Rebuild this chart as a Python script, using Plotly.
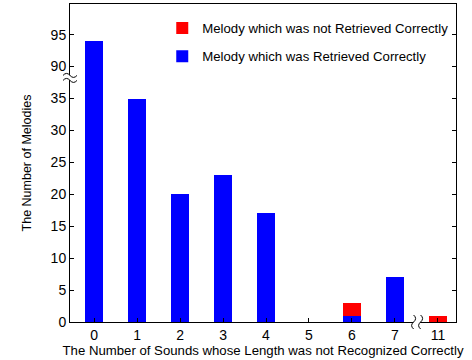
import plotly.graph_objects as go

# Data
categories = ["0", "1", "2", "3", "4", "5", "6", "7", "11"]
retrieved = [94, 35, 20, 23, 17, 0, 1, 7, 0]
not_retrieved = [0, 0, 0, 0, 0, 0, 2, 0, 1]
y_tick_labels = ["0", "5", "10", "15", "20", "25", "30", "35", "90", "95"]
y_tick_values = [0, 5, 10, 15, 20, 25, 30, 35, 90, 95]

# broken y axis: values >= 90 are shifted down by 50
BREAK_SHIFT = 50
def ty(v):
    return v - BREAK_SHIFT if v >= 90 else v

xpos = list(range(len(categories)))
blue_plot = [ty(v) for v in retrieved]
red_plot = [ty(b + r) - ty(b) for b, r in zip(retrieved, not_retrieved)]

fig = go.Figure()
fig.add_trace(go.Bar(x=xpos, y=blue_plot, name="Melody which was Retrieved Correctly",
                     legendgroup="b", legendrank=2,
                     marker=dict(color="#0000FF", line=dict(width=0)), width=0.42,
                     customdata=retrieved, hovertemplate="%{customdata}<extra></extra>"))
fig.add_trace(go.Bar(x=xpos, y=red_plot, name="Melody which was not Retrieved Correctly",
                     legendgroup="r", legendrank=1,
                     marker=dict(color="#FF0000", line=dict(width=0)), width=0.42,
                     customdata=not_retrieved, hovertemplate="%{customdata}<extra></extra>"))

font = "Liberation Sans, Arial, sans-serif"

shapes = []
# y-axis break marks
ybreak = 38.3
wave_top = "M-7,2 Q-3.5,6 0,2 T7,2"
wave_bot = "M-7,-3 Q-3.5,1 0,-3 T7,-3"
shapes.append(dict(type="path", xref="paper", yref="y", xsizemode="pixel", ysizemode="pixel",
                   xanchor=0, yanchor=ybreak,
                   path="M-7,2 Q-3.5,6 0,2 T7,2 L7,-3 Q3.5,-7 0,-3 T-7,-3 Z",
                   fillcolor="white", line=dict(width=0), layer="above"))
for p in (wave_top, wave_bot):
    shapes.append(dict(type="path", xref="paper", yref="y", xsizemode="pixel", ysizemode="pixel",
                       xanchor=0, yanchor=ybreak, path=p,
                       line=dict(color="black", width=1), layer="above"))
# x-axis break marks
xbreak = 7.55
shapes.append(dict(type="path", xref="x", yref="paper", xsizemode="pixel", ysizemode="pixel",
                   xanchor=xbreak, yanchor=0,
                   path="M-5,7 Q-1,3.5 -5,0 T-5,-7 L2,-7 Q-2,-3.5 2,0 T2,7 Z",
                   fillcolor="white", line=dict(width=0), layer="above"))
for p in ("M-5,7 Q-1,3.5 -5,0 T-5,-7", "M2,7 Q6,3.5 2,0 T2,-7"):
    shapes.append(dict(type="path", xref="x", yref="paper", xsizemode="pixel", ysizemode="pixel",
                       xanchor=xbreak, yanchor=0, path=p,
                       line=dict(color="black", width=1), layer="above"))

fig.update_layout(
    width=472, height=360,
    margin=dict(l=70, r=16, t=4, b=38),
    barmode="stack",
    plot_bgcolor="white", paper_bgcolor="white",
    font=dict(family=font, color="black"),
    showlegend=True,
    legend=dict(x=0.239, y=0.972, xanchor="left", yanchor="top",
                traceorder="grouped", tracegroupgap=8,
                font=dict(size=13.2, family=font), bgcolor="rgba(0,0,0,0)",
                itemsizing="constant"),
    xaxis=dict(range=[-0.56, 8.42], tickmode="array", tickvals=xpos, ticktext=categories,
               showline=True, linecolor="black", linewidth=1, mirror=True,
               ticks="inside", ticklen=4, tickcolor="black",
               showgrid=False, zeroline=False, tickfont=dict(size=14),
               title=dict(text="The Number of Sounds whose Length was not Recognized Correctly",
                          font=dict(size=13.2), standoff=2)),
    yaxis=dict(range=[0, 49.8], tickmode="array",
               tickvals=[ty(v) for v in y_tick_values], ticktext=y_tick_labels,
               showline=True, linecolor="black", linewidth=1, mirror="ticks",
               ticks="inside", ticklen=4, tickcolor="black",
               showgrid=False, zeroline=False, tickfont=dict(size=14),
               title=dict(text="The Number of Melodies", font=dict(size=12.5), standoff=16)),
    shapes=shapes,
)

fig.write_html("out.html", config={"displayModeBar": False},
               post_script="document.body.style.margin='0';document.body.style.overflow='hidden';")
